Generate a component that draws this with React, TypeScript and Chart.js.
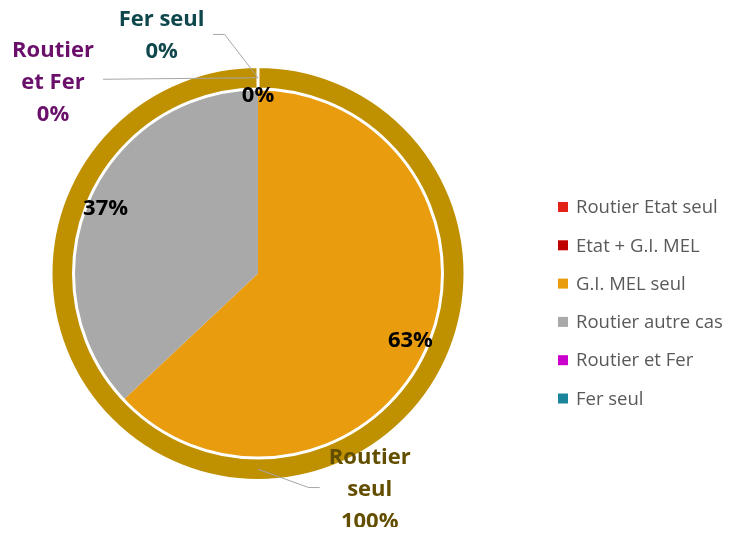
import React, { useEffect, useRef } from "react";
import { Chart, registerables } from "chart.js";

Chart.register(...registerables);

// Outer ring series
const ringLabels = ["Routier seul", "Routier et Fer", "Fer seul"];
const ringValues = [100, 0, 0];
const ringColors = ["#BF9000", "#CC00CC", "#1B869B"];
const ringTextColors = ["#634E00", "#6A0F6A", "#0F474C"];

// Inner pie series
const pieLabels = ["Routier Etat seul", "Etat + G.I. MEL", "G.I. MEL seul", "Routier autre cas"];
const pieValues = [0, 0, 63, 37];
const pieColors = ["#E2231A", "#C00000", "#E89C0E", "#A9A9A9"];

// Legend entries
const legendLabels = [...pieLabels, "Routier et Fer", "Fer seul"];
const legendColors = [...pieColors, "#CC00CC", "#1B869B"];

// Layout of outer-label callouts (offsets relative to each arc anchor)
const ringCallouts = [
  { path: [[50.7, 18.3], [61.7, 18.3]], text: [111.7, 19.3] },
  { path: [[-155, 1.5]], text: [-205, 3] },
  { path: [[-33.4, -43.3], [-45, -43.3]], text: [-96.4, -43.6] },
];

const pct = (v: number, arr: number[]) => {
  const s = arr.reduce((a, b) => a + b, 0);
  return Math.round((v / s) * 100) + "%";
};

const labelsPlugin = {
  id: "customLabels",
  afterDatasetsDraw(chart: any) {
    const ctx: CanvasRenderingContext2D = chart.ctx;
    const ring = chart.getDatasetMeta(0);
    const pie = chart.getDatasetMeta(1);
    ctx.save();

    // inner pie labels
    const pfs = 22;
    ctx.font = `bold ${pfs}px 'Open Sans'`;
    ctx.fillStyle = "#000000";
    ctx.textAlign = "center";
    ctx.textBaseline = "alphabetic";
    const seen: string[] = [];
    pie.data.forEach((arc: any, i: number) => {
      const v = pieValues[i];
      const mid = (arc.startAngle + arc.endAngle) / 2;
      const r = v === 0 ? arc.outerRadius - 5 : arc.outerRadius * 0.9;
      const x = arc.x + Math.cos(mid) * r;
      const y = arc.y + Math.sin(mid) * r;
      const key = Math.round(x) + "," + Math.round(y);
      if (seen.includes(key)) return;
      seen.push(key);
      ctx.fillText(pct(v, pieValues), x, y + pfs * 0.357);
    });

    // outer ring labels with leader lines
    const fs = 22;
    const lh = 32;
    ctx.font = `bold ${fs}px 'Open Sans'`;
    ring.data.forEach((arc: any, i: number) => {
      const mid = (arc.startAngle + arc.endAngle) / 2;
      const r = (arc.innerRadius + arc.outerRadius) / 2;
      const ax = arc.x + Math.cos(mid) * r;
      const ay = arc.y + Math.sin(mid) * r;
      const c = ringCallouts[i];
      ctx.strokeStyle = "#A6A6A6";
      ctx.lineWidth = 1;
      ctx.beginPath();
      ctx.moveTo(ax, ay);
      c.path.forEach((p) => ctx.lineTo(ax + p[0], ay + p[1]));
      ctx.stroke();

      // wrap words
      const words = ringLabels[i].split(" ");
      const lines: string[] = [];
      let cur = "";
      words.forEach((w) => {
        const t = cur ? cur + " " + w : w;
        if (cur && ctx.measureText(t).width > 100) {
          lines.push(cur);
          cur = w;
        } else cur = t;
      });
      if (cur) lines.push(cur);
      lines.push(pct(ringValues[i], ringValues));

      const cx = ax + c.text[0];
      const cy = ay + c.text[1];
      ctx.fillStyle = ringTextColors[i];
      const n = lines.length;
      lines.forEach((ln, k) => {
        const by = cy - ((n - 1) * lh) / 2 + k * lh + fs * 0.357;
        ctx.fillText(ln, cx, by);
      });
    });

    // legend
    const lx = 550;
    const ly = 199;
    const gap = 38.3;
    ctx.font = "18.5px 'Open Sans'";
    ctx.textAlign = "left";
    ctx.textBaseline = "middle";
    legendLabels.forEach((lab, i) => {
      const y = ly + i * gap;
      ctx.fillStyle = legendColors[i];
      ctx.fillRect(lx, y - 5, 10, 10);
      ctx.fillStyle = "#595959";
      ctx.fillText(lab, lx + 18, y + 1);
    });

    ctx.restore();
  },
};

export default function App() {
  const ref = useRef<HTMLCanvasElement | null>(null);
  useEffect(() => {
    if (!ref.current) return;
    const chart = new Chart(ref.current, {
      type: "pie",
      data: {
        labels: legendLabels,
        datasets: [
          {
            label: "Ring",
            data: ringValues,
            backgroundColor: ringColors,
            borderColor: "#FFFFFF",
            borderWidth: 3,
            weight: 22.5,
            radius: 207,
            hoverOffset: 0,
          } as any,
          {
            label: "Pie",
            data: pieValues,
            backgroundColor: pieColors,
            borderWidth: 0,
            weight: 184.5,
            radius: 207,
            hoverOffset: 0,
          } as any,
        ],
      },
      options: {
        animation: false,
        responsive: false,
        events: [],
        radius: 207,
        layout: { padding: { left: 0, right: 230, top: 12, bottom: 0 } },
        plugins: {
          legend: { display: false },
          tooltip: { enabled: false },
        },
      } as any,
      plugins: [labelsPlugin],
    });
    return () => chart.destroy();
  }, []);
  return (
    <div style={{ width: 730, height: 519 }}>
      <canvas ref={ref} width={730} height={519} style={{ display: "block" }} />
    </div>
  );
}
